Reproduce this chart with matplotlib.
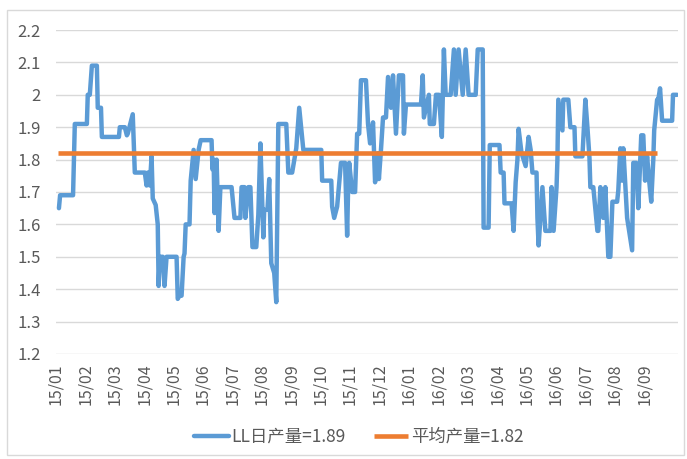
import matplotlib
matplotlib.use('Agg')
import matplotlib.pyplot as plt
from matplotlib.patches import Rectangle

plt.rcParams['font.family'] = ['Noto Sans CJK SC', 'DejaVu Sans']

# month labels on the category axis (one label per month)
month_labels = ['15/01', '15/02', '15/03', '15/04', '15/05', '15/06', '15/07',
                '15/08', '15/09', '15/10', '15/11', '15/12', '16/01', '16/02',
                '16/03', '16/04', '16/05', '16/06', '16/07', '16/08', '16/09']

# daily output, position in months since 15/01 and value
daily_pos = [0.10, 0.14, 0.58, 0.64, 1.05, 1.08, 1.15, 1.22, 1.39, 1.42, 1.53, 1.56,
             2.14, 2.17, 2.34, 2.41, 2.44, 2.61, 2.68, 3.02, 3.08, 3.12, 3.19, 3.25,
             3.29, 3.39, 3.46, 3.49, 3.53, 3.63, 3.69, 3.76, 4.10, 4.14, 4.20, 4.27,
             4.34, 4.37, 4.41, 4.54, 4.58, 4.68, 4.75, 4.85, 4.92, 5.29, 5.32, 5.36,
             5.39, 5.46, 5.53, 5.59, 5.97, 6.07, 6.27, 6.31, 6.41, 6.44, 6.54, 6.61,
             6.68, 6.81, 6.88, 6.95, 7.05, 7.08, 7.19, 7.25, 7.32, 7.42, 7.49, 7.56,
             7.83, 7.90, 8.03, 8.17, 8.27, 8.41, 9.02, 9.05, 9.36, 9.39, 9.46, 9.56,
             9.69, 9.83, 9.90, 9.93, 9.97, 10.07, 10.17, 10.24, 10.31, 10.37, 10.54,
             10.61, 10.68, 10.78, 10.85, 10.95, 10.98, 11.05, 11.12, 11.22, 11.29,
             11.39, 11.46, 11.56, 11.66, 11.80, 11.83, 11.90, 12.41, 12.47, 12.51,
             12.68, 12.71, 12.85, 12.92, 13.02, 13.12, 13.19, 13.25, 13.42, 13.53,
             13.59, 13.69, 13.83, 13.93, 14.03, 14.27, 14.34, 14.51, 14.54, 14.71,
             14.75, 15.08, 15.12, 15.22, 15.25, 15.49, 15.56, 15.63, 15.69, 15.73,
             15.83, 15.97, 16.07, 16.14, 16.20, 16.34, 16.37, 16.41, 16.54, 16.64,
             16.81, 16.85, 16.92, 17.02, 17.05, 17.08, 17.22, 17.25, 17.42, 17.49,
             17.63, 17.66, 17.90, 18.00, 18.07, 18.14, 18.17, 18.27, 18.41, 18.44,
             18.51, 18.61, 18.68, 18.78, 18.85, 18.92, 19.08, 19.12, 19.19, 19.25,
             19.29, 19.42, 19.59, 19.63, 19.73, 19.80, 19.90, 19.97, 20.03, 20.10,
             20.17, 20.24, 20.31, 20.34, 20.44, 20.47, 20.54, 20.61, 20.95, 20.98,
             21.12]
daily_val = [1.65, 1.69, 1.69, 1.91, 1.91, 2.00, 2.00, 2.09, 2.09, 1.96, 1.96, 1.87,
             1.87, 1.90, 1.90, 1.875, 1.88, 1.94, 1.76, 1.76, 1.72, 1.76, 1.72, 1.81,
             1.68, 1.66, 1.60, 1.41, 1.50, 1.50, 1.41, 1.50, 1.50, 1.37, 1.38, 1.38,
             1.50, 1.51, 1.60, 1.60, 1.735, 1.83, 1.74, 1.83, 1.86, 1.86, 1.77, 1.80,
             1.635, 1.80, 1.58, 1.715, 1.715, 1.62, 1.62, 1.715, 1.715, 1.62, 1.715, 1.715,
             1.53, 1.53, 1.63, 1.85, 1.56, 1.645, 1.645, 1.74, 1.48, 1.45, 1.36, 1.91,
             1.91, 1.76, 1.76, 1.835, 1.96, 1.83, 1.83, 1.735, 1.735, 1.655, 1.62, 1.655,
             1.79, 1.79, 1.565, 1.70, 1.79, 1.70, 1.70, 1.88, 1.88, 2.045, 2.045,
             1.91, 1.85, 1.915, 1.73, 1.82, 1.74, 1.83, 1.93, 1.93, 2.055,
             1.96, 2.06, 1.88, 2.06, 2.06, 1.88, 1.97, 1.97, 2.06, 1.93,
             2.00, 1.91, 1.91, 2.00, 2.00, 1.87, 2.14, 2.00, 2.00, 2.14,
             2.00, 2.14, 2.00, 2.14, 2.00, 2.00, 2.14, 2.14, 1.59, 1.59,
             1.845, 1.845, 1.76, 1.76, 1.665, 1.665, 1.58, 1.73, 1.80, 1.895,
             1.82, 1.78, 1.87, 1.83, 1.76, 1.76, 1.62, 1.535, 1.715, 1.58,
             1.58, 1.715, 1.58, 1.715, 1.80, 1.985, 1.89, 1.985, 1.985, 1.90,
             1.90, 1.81, 1.81, 1.985, 1.90, 1.805, 1.715, 1.715, 1.58, 1.58,
             1.715, 1.62, 1.715, 1.50, 1.50, 1.67, 1.67, 1.705, 1.835, 1.735,
             1.835, 1.62, 1.52, 1.79, 1.79, 1.65, 1.875, 1.875, 1.735, 1.81,
             1.735, 1.67, 1.80, 1.89, 1.985, 1.98, 2.02, 1.92, 1.92, 2.00,
             2.00]

# average output (flat line)
avg_pos = [0.07, 20.44]
avg_val = [1.82, 1.82]

blue = '#5B9BD5'
orange = '#ED7D31'
grey_text = '#595959'

fig = plt.figure(figsize=(6.87, 4.59), dpi=100)
ax = fig.add_axes([0.0815, 0.2288, 0.9054, 0.7058])

ax.plot(daily_pos, daily_val, color=blue, lw=3.2, solid_joinstyle='round',
        solid_capstyle='round', label='LL日产量=1.89', zorder=3)
ax.plot(avg_pos, avg_val, color=orange, lw=3.3, solid_capstyle='butt',
        label='平均产量=1.82', zorder=4)

ax.set_xlim(0.07, 21.15)
ax.set_ylim(1.2, 2.2)
ax.set_yticks([1.2 + 0.1 * i for i in range(11)])
ax.set_yticklabels(['1.2', '1.3', '1.4', '1.5', '1.6', '1.7', '1.8', '1.9', '2', '2.1', '2.2'])
ax.set_xticks(range(len(month_labels)))
ax.set_xticklabels(month_labels, rotation=90)

ax.tick_params(axis='y', length=0, pad=11, labelsize=12, labelcolor=grey_text)
ax.tick_params(axis='x', length=0, pad=7, labelsize=11.5, labelcolor=grey_text)

ax.grid(axis='y', color='#D9D9D9', lw=1.0)
ax.set_axisbelow(True)
for s in ax.spines.values():
    s.set_visible(False)

leg = fig.legend(loc='center', bbox_to_anchor=(0.5226, 0.048), ncol=2, frameon=False,
                 fontsize=12.5, handlelength=2.0, handletextpad=0.15, columnspacing=1.6)
for t in leg.get_texts():
    t.set_color(grey_text)

# chart border
fig.patches.append(Rectangle((7 / 687, 4 / 459), 677 / 687, 445 / 459,
                             transform=fig.transFigure, fill=False,
                             edgecolor='#D9D9D9', lw=1.0))

fig.savefig('out.png', dpi=100)
